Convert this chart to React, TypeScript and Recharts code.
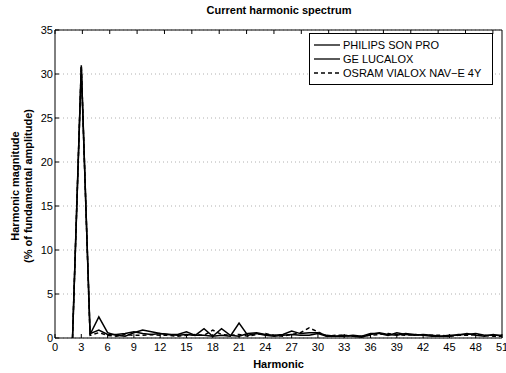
import { LineChart, Line, XAxis, YAxis, CartesianGrid } from "recharts";

const harmonics = [
  2, 3, 4, 5, 6, 7, 8, 9, 10, 11, 12, 13, 14, 15, 16, 17, 18, 19, 20, 21, 22, 23, 24, 25, 26,
  27, 28, 29, 30, 31, 32, 33, 34, 35, 36, 37, 38, 39, 40, 41, 42, 43, 44, 45, 46, 47, 48, 49,
  50, 51,
];

const philips = [
  0, 31.0, 0.4, 2.4, 0.6, 0.3, 0.2, 0.6, 0.9, 0.7, 0.5, 0.4, 0.3, 0.4, 0.3, 1.05, 0.2, 0.3,
  0.2, 1.7, 0.3, 0.5, 0.3, 0.2, 0.3, 0.4, 0.3, 0.3, 0.5, 0.2, 0.2, 0.3, 0.2, 0.1, 0.4, 0.6,
  0.4, 0.3, 0.5, 0.4, 0.3, 0.2, 0.2, 0.3, 0.3, 0.5, 0.3, 0.2, 0.4, 0.2,
];

const ge = [
  0, 30.8, 0.5, 0.9, 0.4, 0.4, 0.5, 0.7, 0.5, 0.4, 0.5, 0.4, 0.4, 0.7, 0.3, 0.3, 0.2, 1.05,
  0.3, 0.2, 0.5, 0.6, 0.4, 0.3, 0.4, 0.8, 0.5, 0.6, 0.6, 0.3, 0.2, 0.2, 0.3, 0.2, 0.5, 0.5,
  0.3, 0.6, 0.4, 0.3, 0.4, 0.3, 0.2, 0.2, 0.4, 0.4, 0.5, 0.3, 0.3, 0.3,
];

const osram = [
  0, 30.9, 0.3, 0.6, 0.3, 0.2, 0.4, 0.3, 0.3, 0.4, 0.3, 0.3, 0.2, 0.3, 0.4, 0.3, 0.9, 0.4,
  0.3, 0.4, 0.2, 0.4, 0.5, 0.3, 0.2, 0.4, 0.6, 1.15, 0.7, 0.2, 0.3, 0.3, 0.2, 0.2, 0.3, 0.4,
  0.5, 0.4, 0.3, 0.4, 0.3, 0.3, 0.3, 0.2, 0.3, 0.3, 0.4, 0.3, 0.2, 0.2,
];

const xTicks = [0, 3, 6, 9, 12, 15, 18, 21, 24, 27, 30, 33, 36, 39, 42, 45, 48, 51];
const yTicks = [0, 5, 10, 15, 20, 25, 30, 35];

const SERIES = [
  { key: "philips", name: "PHILIPS SON PRO", dash: undefined },
  { key: "ge", name: "GE LUCALOX", dash: undefined },
  { key: "osram", name: "OSRAM VIALOX NAV\u2212E 4Y", dash: "4 3" },
];

const FONT = "'Liberation Sans', Arial, Helvetica, sans-serif";

const chartData = harmonics.map((h, i) => ({
  h,
  philips: philips[i],
  ge: ge[i],
  osram: osram[i],
}));

// ticks point inward like matlab, labels sit outside
const BottomTick = (props: any) => {
  const { x, y, payload } = props;
  return (
    <g>
      <line x1={x} y1={y} x2={x} y2={y - 4} stroke="#000" />
      <text x={x} y={y + 13} textAnchor="middle" fontSize={11} fontFamily={FONT} fill="#000">
        {payload.value}
      </text>
    </g>
  );
};

const LeftTick = (props: any) => {
  const { x, y, payload } = props;
  return (
    <g>
      <line x1={x} y1={y} x2={x + 4} y2={y} stroke="#000" />
      <text x={x - 2} y={y + 4} textAnchor="end" fontSize={11} fontFamily={FONT} fill="#000">
        {payload.value}
      </text>
    </g>
  );
};

const TopTick = (props: any) => {
  const { x, y } = props;
  return <line x1={x} y1={y} x2={x} y2={y + 4} stroke="#000" />;
};

const RightTick = (props: any) => {
  const { x, y } = props;
  return <line x1={x} y1={y} x2={x - 4} y2={y} stroke="#000" />;
};

const LegendBox = () => (
  <div
    style={{
      position: "absolute",
      left: 309,
      top: 33,
      width: 184,
      height: 52,
      border: "1.5px solid #000",
      background: "#fff",
      fontFamily: FONT,
      fontSize: 11,
      color: "#000",
      boxSizing: "border-box",
      paddingTop: 4,
    }}
  >
    {SERIES.map((s) => (
      <div key={s.key} style={{ display: "flex", alignItems: "center", height: 14 }}>
        <svg width={30} height={8} style={{ marginLeft: 3 }}>
          <line
            x1={1}
            y1={4}
            x2={27}
            y2={4}
            stroke="#000"
            strokeWidth={1.3}
            strokeDasharray={s.dash}
          />
        </svg>
        <span style={{ lineHeight: "14px" }}>{s.name}</span>
      </div>
    ))}
  </div>
);

export default function App() {
  return (
    <div style={{ position: "absolute", left: 0, top: 0, width: 506, height: 373, background: "#fff" }}>
      <LineChart
        width={506}
        height={373}
        data={chartData}
        margin={{ top: 29, right: 3, bottom: 0, left: 0 }}
      >
        <CartesianGrid
          vertical={false}
          stroke="#b0b0b0"
          strokeDasharray="1 3"
          yAxisId="left"
          xAxisId="bottom"
        />
        <XAxis
          xAxisId="bottom"
          dataKey="h"
          type="number"
          domain={[0, 51]}
          ticks={xTicks}
          interval={0}
          height={35}
          tickSize={0}
          tickMargin={0}
          tickLine={false}
          tick={<BottomTick />}
          axisLine={{ stroke: "#000" }}
          label={{
            value: "Harmonic",
            position: "insideBottom",
            offset: 5,
            style: { fontFamily: FONT, fontSize: 11, fontWeight: "bold", fill: "#000" },
          }}
        />
        <XAxis
          xAxisId="top"
          orientation="top"
          type="number"
          domain={[0, 51]}
          ticks={xTicks}
          interval={0}
          height={1}
          tickSize={0}
          tickMargin={0}
          tickLine={false}
          tick={<TopTick />}
          axisLine={{ stroke: "#000" }}
        />
        <YAxis
          yAxisId="left"
          type="number"
          domain={[0, 35]}
          ticks={yTicks}
          interval={0}
          width={55}
          tickSize={0}
          tickMargin={0}
          tickLine={false}
          tick={<LeftTick />}
          axisLine={{ stroke: "#000" }}
        />
        <YAxis
          yAxisId="right"
          orientation="right"
          type="number"
          domain={[0, 35]}
          ticks={yTicks}
          interval={0}
          width={1}
          tickSize={0}
          tickMargin={0}
          tickLine={false}
          tick={<RightTick />}
          axisLine={{ stroke: "#000" }}
        />
        {SERIES.map((s) => (
          <Line
            key={s.key}
            xAxisId="bottom"
            yAxisId="left"
            dataKey={s.key}
            name={s.name}
            type="linear"
            stroke="#000"
            strokeWidth={1.5}
            strokeDasharray={s.dash}
            dot={false}
            isAnimationActive={false}
          />
        ))}
        <text
          x={279}
          y={14}
          textAnchor="middle"
          fontFamily={FONT}
          fontSize={11}
          fontWeight="bold"
          fill="#000"
        >
          Current harmonic spectrum
        </text>
        <text
          transform="translate(19, 186) rotate(-90)"
          textAnchor="middle"
          fontFamily={FONT}
          fontSize={11}
          fontWeight="bold"
          fill="#000"
        >
          <tspan x={0} y={0}>Harmonic magnitude</tspan>
          <tspan x={0} y={13}>(% of fundamental amplitude)</tspan>
        </text>
      </LineChart>
      <LegendBox />
    </div>
  );
}
